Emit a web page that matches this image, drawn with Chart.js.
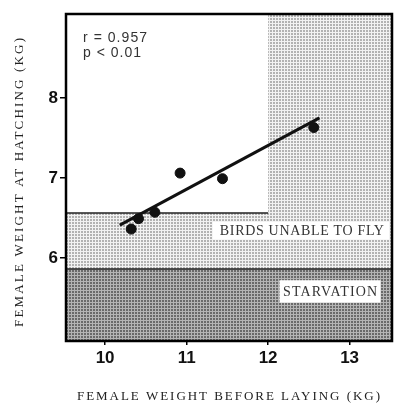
<!DOCTYPE html>
<html>
<head>
<meta charset="utf-8">
<script src="https://cdn.jsdelivr.net/npm/chart.js@4.4.1/dist/chart.umd.min.js"></script>
<style>
  html, body { margin: 0; padding: 0; background: #fff; overflow: hidden; }
  /* chart.js keeps a few px free on the right, so the box is a bit wider than the window */
  #wrap { width: 398px; height: 403px; }
</style>
</head>
<body>
<div id="wrap"><canvas id="birdChart"></canvas></div>
<script>
// female weights (kg)
const weightBeforeLaying = [10.32, 10.41, 10.61, 10.92, 11.44, 12.56];
const weightAtHatching = [6.36, 6.49, 6.57, 7.06, 6.99, 7.63];

// regression line end points
const fitBefore = [10.18, 12.63];
const fitHatching = [6.41, 7.75];

// thresholds (kg)
const starvationLimit = 5.86;
const flightLimit = 6.56;
const flightLimitBefore = 12.0;

const xTicks = [10, 11, 12, 13];
const yTicks = [6, 7, 8];
const xRange = [9.52, 13.52];
const yRange = [4.96, 9.05];

const statsText = ["r = 0.957", "p < 0.01"];

function makePattern(bg, dot) {
    const c = document.createElement("canvas");
    c.width = 3; c.height = 3;
    const g = c.getContext("2d");
    g.fillStyle = bg; g.fillRect(0, 0, 3, 3);
    g.fillStyle = dot; g.fillRect(0, 0, 2, 2);
    return g.createPattern(c, "repeat");
}

function fitText(ctx, text, cx, y, width) {
    ctx.letterSpacing = "0px";
    const w = ctx.measureText(text).width;
    const ls = (width - w) / (text.length - 1);
    ctx.letterSpacing = ls + "px";
    ctx.textAlign = "left";
    ctx.fillText(text, cx - width / 2, y);
    ctx.letterSpacing = "0px";
}

const lightFill = makePattern("#f2f2f2", "#b2b2b2");
const darkFill = makePattern("#b4b4b4", "#6a6a6a");

const zonesPlugin = {
    id: "zones",
    beforeDatasetsDraw(chart) {
        const { ctx, chartArea: a, scales: { x, y } } = chart;
        const px = v => x.getPixelForValue(v);
        const py = v => y.getPixelForValue(v);
        ctx.save();
        // starvation zone
        ctx.fillStyle = darkFill;
        ctx.fillRect(a.left, py(starvationLimit), a.right - a.left, a.bottom - py(starvationLimit));
        // unable to fly zone
        ctx.fillStyle = lightFill;
        ctx.fillRect(a.left, py(flightLimit), a.right - a.left, py(starvationLimit) - py(flightLimit));
        ctx.fillRect(px(flightLimitBefore), a.top, a.right - px(flightLimitBefore), py(flightLimit) - a.top);
        // boundary lines
        ctx.strokeStyle = "#222";
        ctx.lineWidth = 1.5;
        ctx.beginPath();
        ctx.moveTo(a.left, py(flightLimit));
        ctx.lineTo(px(flightLimitBefore), py(flightLimit));
        ctx.moveTo(a.left, py(starvationLimit));
        ctx.lineTo(a.right, py(starvationLimit));
        ctx.stroke();

        // zone labels
        ctx.fillStyle = "#fff";
        ctx.fillRect(px(11.32), py(6.45), a.right - 3 - px(11.32), py(6.23) - py(6.45));
        ctx.fillRect(px(12.14), py(5.72), px(13.38) - px(12.14), py(5.44) - py(5.72));
        ctx.fillStyle = "#333";
        ctx.font = "14px 'Liberation Serif'";
        ctx.textBaseline = "middle";
        fitText(ctx, "BIRDS UNABLE TO FLY", (px(11.32) + a.right - 3) / 2 + 1, py(6.34) + 1, 164);
        fitText(ctx, "STARVATION", (px(12.14) + px(13.38)) / 2, py(5.58) + 1, 94);
        ctx.restore();
    },
    afterDraw(chart) {
        const { ctx, chartArea: a } = chart;
        ctx.save();
        ctx.strokeStyle = "#000";
        ctx.lineWidth = 2.5;
        ctx.strokeRect(a.left, a.top, a.right - a.left, a.bottom - a.top);

        ctx.fillStyle = "#333";
        ctx.font = "14px 'Liberation Sans'";
        ctx.textBaseline = "alphabetic";
        fitText(ctx, statsText[0], 83 + 32, 42, 64);
        fitText(ctx, statsText[1], 83 + 29, 57, 58);

        ctx.fillStyle = "#222";
        ctx.font = "13px 'Liberation Serif'";
        ctx.textBaseline = "middle";
        fitText(ctx, "FEMALE WEIGHT BEFORE LAYING (KG)", 228.5, 397, 303);
        ctx.translate(20, 182.5);
        ctx.rotate(-Math.PI / 2);
        fitText(ctx, "FEMALE WEIGHT AT HATCHING (KG)", 0, 0, 289);
        ctx.restore();
    }
};

new Chart(document.getElementById("birdChart"), {
    type: "scatter",
    data: {
        datasets: [
            {
                label: "Females",
                data: weightBeforeLaying.map((v, i) => ({ x: v, y: weightAtHatching[i] })),
                backgroundColor: "#111",
                borderColor: "#111",
                pointRadius: 5
            },
            {
                label: "Fit",
                type: "line",
                data: fitBefore.map((v, i) => ({ x: v, y: fitHatching[i] })),
                borderColor: "#111",
                borderWidth: 3,
                pointRadius: 0
            }
        ]
    },
    options: {
        responsive: true,
        maintainAspectRatio: false,
        animation: false,
        layout: { padding: { top: 14, right: 0, left: 0, bottom: 0 } },
        plugins: { legend: { display: false }, tooltip: { enabled: false } },
        scales: {
            x: {
                type: "linear",
                min: xRange[0], max: xRange[1],
                afterBuildTicks: s => { s.ticks = xTicks.map(v => ({ value: v })); },
                afterFit: s => { s.height = 62; s.paddingLeft = 0; s.paddingRight = 0; },
                grid: { drawOnChartArea: false, tickLength: 4, color: "#000", lineWidth: 1.5 },
                border: { display: false },
                ticks: { color: "#111", padding: 3, font: { family: "'Liberation Sans'", size: 17, weight: "bold" } }
            },
            y: {
                type: "linear",
                min: yRange[0], max: yRange[1],
                afterBuildTicks: s => { s.ticks = yTicks.map(v => ({ value: v })); },
                afterFit: s => { s.width = 66; s.paddingTop = 0; s.paddingBottom = 0; },
                grid: { drawOnChartArea: false, tickLength: 6, color: "#000", lineWidth: 1.5 },
                border: { display: false },
                ticks: { color: "#111", padding: 2, font: { family: "'Liberation Sans'", size: 17, weight: "bold" } }
            }
        }
    },
    plugins: [zonesPlugin]
});
</script>
</body>
</html>
